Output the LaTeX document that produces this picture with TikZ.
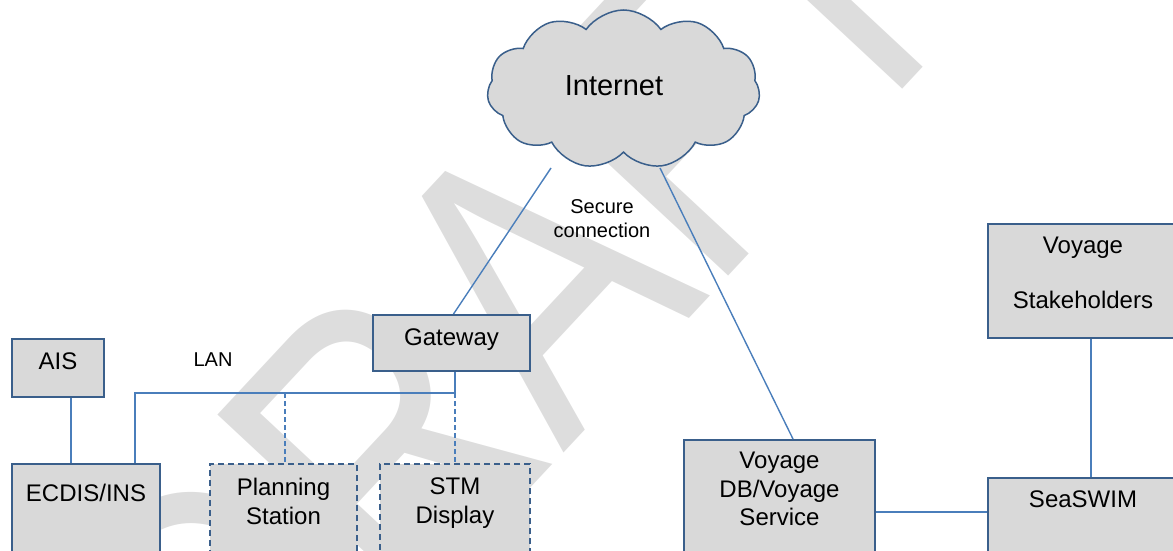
\documentclass[tikz,border=0pt]{standalone}
\usepackage{fontspec}
\setmainfont{Liberation Sans}
\usepackage{tikz}
\usetikzlibrary{positioning,shapes.symbols}
\definecolor{boxgray}{RGB}{217,217,217}
\definecolor{wmgray}{RGB}{221,221,221}
\definecolor{boxline}{RGB}{58,95,139}
\definecolor{linkblue}{RGB}{74,126,187}

\begin{document}
\begin{tikzpicture}[x=1pt,y=-1pt,
  box/.style={draw=boxline,fill=boxgray,line width=2pt,anchor=north west,inner sep=0pt},
  dashbox/.style={box,dash pattern=on 6pt off 4pt},
  boxtext/.style={inner sep=0pt,align=center,font=\fontsize{24}{28.5}\selectfont},
  smalltext/.style={inner sep=0pt,align=center,font=\fontsize{20}{24}\selectfont},
  link/.style={draw=linkblue,line width=1.4pt},
  lan/.style={draw=linkblue,line width=2pt}]
\useasboundingbox (0,0) rectangle (1173,551);
% watermark
\node[rotate=47,xscale=0.8,anchor=base west,inner sep=0pt,text=wmgray,font=\fontsize{405}{405}\selectfont] (draft) at (244,796) {DRAFT};

\node[cloud,cloud puffs=11,cloud puff arc=110,aspect=1.72,minimum width=273,minimum height=159,
  draw=boxline,fill=boxgray,line width=1.5pt] (inet) at (623.5,89.5) {};
\node[inner sep=0pt,anchor=north,font=\fontsize{29}{34}\selectfont] (inetlbl) at (614,75) {Internet};

\node[box,minimum width=92,minimum height=58] (ais) at (11,338) {};
\node[box,minimum width=157,minimum height=56] (gateway) at (372,314) {};
\node[box,minimum width=148,minimum height=130] (ecdis) at (11,463) {};
\node[dashbox,minimum width=147,minimum height=130] (planning) at (209,463) {};
\node[dashbox,minimum width=150,minimum height=130] (stm) at (379,463) {};
\node[box,minimum width=191,minimum height=144] (voydb) at (683,439) {};
\node[box,minimum width=190,minimum height=130] (seaswim) at (987,477) {};
\node[box,minimum width=190,minimum height=114] (stake) at (987,223) {};

\node[boxtext,below=15pt of ais.north] (aislbl) {AIS};
\node[boxtext,below=15pt of gateway.north] (gatewaylbl) {Gateway};
\node[boxtext,below=21pt of ecdis.north] (ecdislbl) {ECDIS/INS};
\node[boxtext,below=15pt of planning.north] (planninglbl) {Planning\\Station};
\node[boxtext,below=15pt of stm.north] (stmlbl) {STM\\Display};
\node[boxtext,below=13pt of voydb.north] (voydblbl) {Voyage\\DB/Voyage\\Service};
\node[boxtext,below=14pt of seaswim.north] (seaswimlbl) {SeaSWIM};
\node[boxtext,below=14pt of stake.north] (stakelbl) {Voyage\\[26.5pt]Stakeholders};

\node[smalltext,anchor=north] (lanlbl) at (213,353) {LAN};
\node[smalltext,anchor=north] (securelbl) at (602,199) {Secure\\connection};

\coordinate (lanW) at (135,393);
\coordinate (lanE) at (455,393);
\coordinate (inetL) at (551,168);
\coordinate (inetR) at (660,168);

\draw[link] ([xshift=13pt]ais.south) -- ([xshift=13pt]ais.south |- ecdis.north);
\draw[lan] (lanW |- ecdis.north) -- (lanW) -- (lanE) -- (lanE |- gateway.south);
\draw[link,dash pattern=on 5pt off 3pt] ([xshift=1.5pt]planning.north |- lanW) -- ([xshift=1.5pt]planning.north);
\draw[link,dash pattern=on 5pt off 3pt] (stm.north |- lanW) -- (stm.north);
\draw[link] ([xshift=2pt]gateway.north) -- (inetL);
\draw[link] (inetR) -- ([xshift=13.5pt]voydb.north);
\draw[lan] (voydb.east) -- (voydb.east -| seaswim.west);
\draw[lan] ([xshift=8pt]stake.south) -- ([xshift=8pt]stake.south |- seaswim.north);
\end{tikzpicture}
\end{document}
